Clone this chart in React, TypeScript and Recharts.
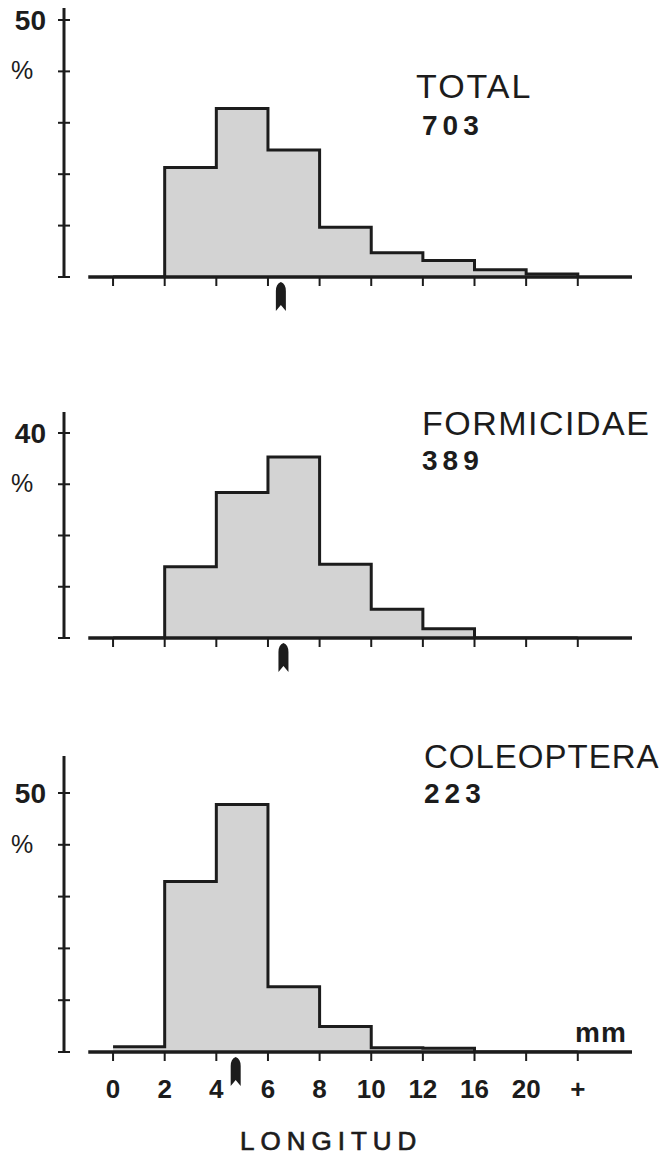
import React from 'react';
import { AreaChart, Area, XAxis, YAxis, ReferenceLine, ReferenceDot } from 'recharts';

// bin edges (mm) shown under the bottom panel
const binLabels = ['0', '2', '4', '6', '8', '10', '12', '16', '20', '+'];

// % of prey per length class: 0-2, 2-4, 4-6, 6-8, 8-10, 10-12, 12-16, 16-20, 20+
const totalPct = [0, 21.3, 32.8, 24.7, 9.7, 4.7, 3.2, 1.4, 0.6];
const formicidaePct = [0, 13.9, 28.4, 35.3, 14.4, 5.6, 1.8, 0, 0];
const coleopteraPct = [1.0, 32.9, 47.8, 12.6, 4.9, 0.8, 0.7, 0, 0];

const panelTitles = ['TOTAL', 'FORMICIDAE', 'COLEOPTERA'];
const panelCounts = ['703', '389', '223'];
const medianMm = [6.5, 6.6, 4.75];
const topTicks = [50, 40, 50];

const INK = '#1c1c1c';
const FONT = '"Liberation Sans", Arial, sans-serif';

const toRows = (vals: number[]) =>
  vals.map((v, i) => ({ x: i, pct: v })).concat([{ x: vals.length, pct: 0 }]);

const YTick = (props: any) => {
  const { x, y, payload, top } = props;
  return (
    <g>
      <line x1={x - 6} x2={x + 6} y1={y} y2={y} stroke={INK} strokeWidth={2} />
      {payload.value === top && (
        <text x={x - 18} y={y + 10} textAnchor="end" fontSize={28} fontWeight="bold" fill={INK} fontFamily={FONT}>
          {top}
        </text>
      )}
      {payload.value === top - 10 && (
        <text x={11} y={y + 8} fontSize={25} fill={INK} fontFamily={FONT}>%</text>
      )}
    </g>
  );
};

const Marker = (props: any) => {
  const { cx, cy } = props;
  const d = `M${cx - 5},${cy + 14} Q${cx - 5},${cy + 7} ${cx},${cy + 5} Q${cx + 5},${cy + 7} ${cx + 5},${cy + 14} L${cx + 5},${cy + 34} L${cx},${cy + 28} L${cx - 5},${cy + 34} Z`;
  return <path d={d} fill={INK} />;
};

interface PanelProps {
  values: number[];
  top: number;
  plotH: number;
  yMax: number;
  topTick: number;
  median: number;
  showLabels: boolean;
}

function Panel({ values, top, plotH, yMax, topTick, median, showLabels }: PanelProps) {
  const xAxisH = showLabels ? 55 : 40;
  const height = 10 + plotH + xAxisH + 2;
  const yTicks = [];
  for (let t = 0; t <= topTick; t += 10) yTicks.push(t);
  return (
    <div style={{ position: 'absolute', left: 0, top }}>
      <AreaChart width={662} height={height} data={toRows(values)} margin={{ top: 10, right: 30, bottom: 2, left: 0 }}>
        <XAxis
          type="number"
          dataKey="x"
          domain={[-0.95, 10.05]}
          ticks={binLabels.map((_, i) => i)}
          interval={0}
          allowDataOverflow
          height={xAxisH}
          axisLine={false}
          tickLine={{ stroke: INK, strokeWidth: 2 }}
          tickSize={9}
          tickMargin={19}
          tick={{ fill: INK, fontSize: 26, fontWeight: 'bold', fontFamily: FONT }}
          tickFormatter={(i: number) => (showLabels ? binLabels[i] : '')}
        />
        <YAxis
          width={64}
          domain={[0, yMax]}
          allowDataOverflow
          ticks={yTicks}
          interval={0}
          axisLine={{ stroke: INK, strokeWidth: 3 }}
          tickLine={false}
          tickSize={0}
          tickMargin={0}
          tick={(p: any) => <YTick {...p} top={topTick} />}
        />
        <Area
          type="stepAfter"
          dataKey="pct"
          stroke={INK}
          strokeWidth={3}
          fill="#d3d3d3"
          fillOpacity={1}
          dot={false}
          activeDot={false}
          isAnimationActive={false}
        />
        <ReferenceLine
          segment={[{ x: -0.48, y: 0 }, { x: 10.05, y: 0 }]}
          stroke={INK}
          strokeWidth={3.5}
          ifOverflow="visible"
        />
        <ReferenceDot x={median / 2} y={0} ifOverflow="visible" shape={<Marker />} />
      </AreaChart>
    </div>
  );
}

export default function App() {
  return (
    <div style={{ position: 'absolute', left: 0, top: 0, width: 662, height: 1156, background: '#fff' }}>
      <Panel values={totalPct} top={-2} plotH={269} yMax={52.33} topTick={topTicks[0]} median={medianMm[0]} showLabels={false} />
      <Panel values={formicidaePct} top={402} plotH={226} yMax={44.1} topTick={topTicks[1]} median={medianMm[1]} showLabels={false} />
      <Panel values={coleopteraPct} top={746} plotH={296} yMax={57.14} topTick={topTicks[2]} median={medianMm[2]} showLabels />
      <svg width={662} height={1156} style={{ position: 'absolute', left: 0, top: 0, pointerEvents: 'none' }} fontFamily={FONT} fill={INK}>
        <text x={416} y={98} fontSize={34} letterSpacing={2}>{panelTitles[0]}</text>
        <text x={422} y={135} fontSize={28} fontWeight="bold" letterSpacing={5}>{panelCounts[0]}</text>
        <text x={422} y={435} fontSize={34} letterSpacing={1.5}>{panelTitles[1]}</text>
        <text x={422} y={470} fontSize={28} fontWeight="bold" letterSpacing={5}>{panelCounts[1]}</text>
        <text x={424} y={768} fontSize={33} letterSpacing={1}>{panelTitles[2]}</text>
        <text x={424} y={803} fontSize={28} fontWeight="bold" letterSpacing={5}>{panelCounts[2]}</text>
        <text x={575} y={1042} fontSize={28} fontWeight="bold" letterSpacing={1}>mm</text>
        <text x={240} y={1150} fontSize={26} letterSpacing={6} stroke={INK} strokeWidth={0.7}>LONGITUD</text>
      </svg>
    </div>
  );
}
